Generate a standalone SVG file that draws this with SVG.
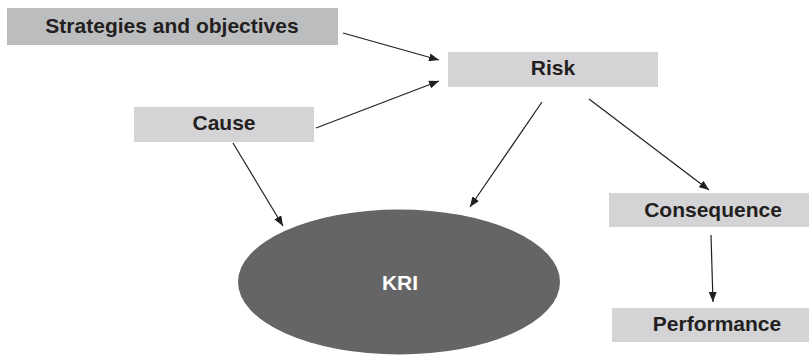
<svg xmlns="http://www.w3.org/2000/svg" width="809" height="355" viewBox="0 0 809 355">
  <style>
    .box { fill: #d4d4d6; }
    .box.dark { fill: #bcbdbf; }
    .label { font-family: "Liberation Sans", Arial, sans-serif; font-weight: bold; font-size: 21px; fill: #231f20; text-anchor: middle; }
    .label.light { fill: #ffffff; }
    .edge { stroke: #231f20; stroke-width: 1.2; fill: none; marker-end: url(#arrow); }
  </style>
  <defs>
    <marker id="arrow" viewBox="0 0 10 8" refX="10" refY="4" markerWidth="10" markerHeight="8" markerUnits="userSpaceOnUse" orient="auto">
      <path d="M0,0 L10,4 L0,8 Z" fill="#231f20"/>
    </marker>
  </defs>

  <rect width="809" height="355" fill="#ffffff"/>

  <g id="strategies">
    <rect class="box dark" x="7" y="8" width="331" height="37"/>
    <text class="label" x="172" y="33">Strategies and objectives</text>
  </g>

  <g id="risk">
    <rect class="box" x="448" y="52" width="210" height="35"/>
    <text class="label" x="553" y="75">Risk</text>
  </g>

  <g id="cause">
    <rect class="box" x="134" y="107" width="180" height="35"/>
    <text class="label" x="224" y="130">Cause</text>
  </g>

  <g id="consequence">
    <rect class="box" x="609" y="193" width="210" height="34"/>
    <text class="label" x="713" y="217">Consequence</text>
  </g>

  <g id="performance">
    <rect class="box" x="612" y="308" width="210" height="34"/>
    <text class="label" x="717" y="331">Performance</text>
  </g>

  <g id="kri">
    <ellipse cx="399" cy="282" rx="161" ry="72.5" fill="#656567"/>
    <text class="label light" x="400" y="290">KRI</text>
  </g>

  <g id="connectors">
    <line class="edge" x1="343" y1="33" x2="439" y2="60"/>
    <line class="edge" x1="316" y1="128" x2="439" y2="81"/>
    <line class="edge" x1="542" y1="102" x2="470" y2="207"/>
    <line class="edge" x1="589" y1="99" x2="709" y2="190"/>
    <line class="edge" x1="233" y1="143" x2="283" y2="226"/>
    <line class="edge" x1="711" y1="235" x2="713" y2="302"/>
  </g>
</svg>
